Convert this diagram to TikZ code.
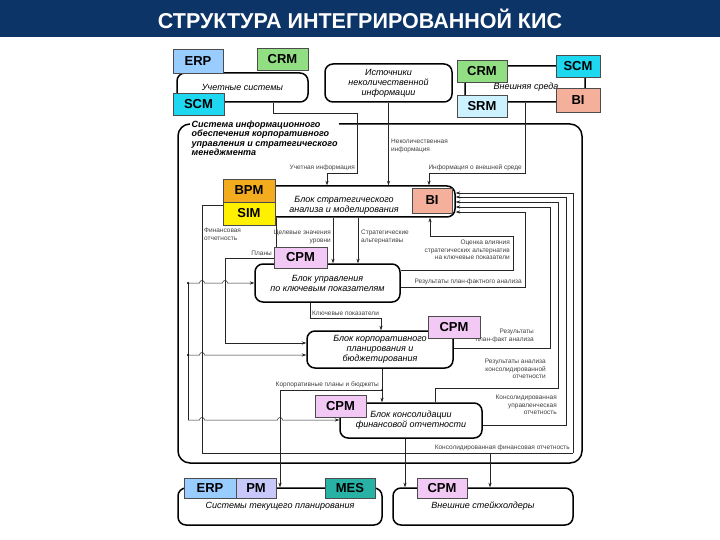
\documentclass[tikz,border=0pt]{standalone}
\usepackage{fontspec}
\setmainfont{Liberation Sans}
\usetikzlibrary{arrows.meta}

\definecolor{titleblue}{RGB}{12,52,102}
\definecolor{erpblue}{RGB}{153,204,255}
\definecolor{crmgreen}{RGB}{146,222,130}
\definecolor{scmcyan}{RGB}{30,215,240}
\definecolor{srmcyan}{RGB}{205,242,255}
\definecolor{bisalmon}{RGB}{244,176,155}
\definecolor{bpmorange}{RGB}{242,172,30}
\definecolor{simyellow}{RGB}{255,240,0}
\definecolor{cpmpink}{RGB}{242,200,245}
\definecolor{pmlav}{RGB}{200,200,250}
\definecolor{mesteal}{RGB}{40,178,165}

\newcommand\tagfnt{\fontsize{13}{15}\selectfont\bfseries}
\newcommand\blkfnt{\fontsize{9}{10}\selectfont\itshape}
\newcommand\notefnt{\fontsize{6.5}{7.5}\selectfont}

\tikzset{
  tag/.style={draw=black!70, line width=0.5pt, inner sep=0pt, font=\tagfnt},
  block/.style={draw, line width=1.5pt, rounded corners=8pt, fill=white, inner sep=0pt, align=center, font=\blkfnt},
  note/.style={inner sep=0pt, text=black!75, font=\notefnt},
  link/.style={line width=0.5pt, draw=black!85},
}

\begin{document}
\begin{tikzpicture}[x=1pt,y=-1pt,>={Stealth[length=4.5pt,width=3.2pt]}]
    \useasboundingbox (0,0) rectangle (720,540);

    % title bar
    \fill[titleblue] (0,0) rectangle (720,37);
    \node[text=white,font=\fontsize{21.5}{24}\selectfont\bfseries] (title) at (360,18.5) {СТРУКТУРА ИНТЕГРИРОВАННОЙ КИС};

    % outer system
    \node[block,rounded corners=12pt,minimum width=404pt,minimum height=339pt] (sys) at (380,293.5) {};
    \node[anchor=north west,inner sep=1.5pt,fill=white,align=left,font=\fontsize{9}{9.5}\selectfont\bfseries\itshape] (sysT) at (190,119)
        {Система информационного\\обеспечения корпоративного\\управления и стратегического\\менеджмента};

    % sources of information
    \node[block,minimum width=131pt,minimum height=29pt] (acc) at (242.5,87.5) {Учетные системы};
    \node[block,minimum width=127pt,minimum height=38pt] (src) at (388.5,83) {Источники\\неколичественной\\информации};
    \node[block,minimum width=120pt,minimum height=36pt] (env) at (525,84) {};
    \node[font=\blkfnt] (envT) at (526,87) {Внешняя среда};

    % blocks
    \node[block,minimum width=193pt,minimum height=31pt] (strat) at (358.5,201.5) {};
    \node[font=\blkfnt,align=center] (stratT) at (344,205) {Блок стратегического\\анализа и моделирования};
    \node[block,minimum width=145pt,minimum height=38pt] (kpi) at (327.5,283) {Блок управления\\по ключевым показателям};
    \node[block,minimum width=146pt,minimum height=37pt] (plan) at (380,349.5) {Блок корпоративного\\планирования и\\бюджетирования};
    \node[block,minimum width=142pt,minimum height=35pt] (cons) at (411,420.5) {Блок консолидации\\финансовой отчетности};
    \node[block,minimum width=204pt,minimum height=37pt] (curp) at (280,506.5) {Системы текущего планирования};
    \node[block,minimum width=180pt,minimum height=37pt] (stake) at (483,506.5) {Внешние стейкхолдеры};

    % inputs to strategic block
    \draw[link,->] (acc.south -| 273,0) -- (273,113) -- (357,113) -- (357,173) -- (327,173) -- (strat.north -| 327,0);
    \node[note,anchor=south east] (lAcc) at (355,171) {Учетная информация};
    \draw[link,->] (src.south) -- (strat.north -| src.south);
    \node[note,anchor=north west,align=left] (lSrc) at (391,139) {Неколичественная\\информация};
    \draw[link,->] (env.south) -- (525,173) -- (429,173) -- (strat.north -| 429,0);
    \node[note,anchor=south east] (lEnv) at (522,171) {Информация о внешней среде};

    % strategic block down to kpi block
    \draw[link,->] (strat.south -| 333,0) -- (kpi.north -| 333,0);
    \node[note,anchor=north east,align=right] (lTgt) at (331,230) {Целевые значения\\уровни};
    \draw[link,->] (strat.south -| 358,0) -- (kpi.north -| 358,0);
    \node[note,anchor=north west,align=left] (lAlt) at (361,230) {Стратегические\\альтернативы};
    \draw[link,->] (strat.south -| 276,0) -- (276,258) -- (225,258) -- (225,343) -- (plan.west |- 0,343);
    \node[note,anchor=south east] (lPlans) at (272,256) {Планы};

    % left bus
    \coordinate (busTop) at (188,283);
    \coordinate (busMid) at (188,355);
    \coordinate (busBot) at (188,420);
    \draw[link] (busTop) -- (busBot);
    \fill (busTop) circle (1.1pt);
    \fill (busMid) circle (1.1pt);
    \draw[link,->] (busTop) -- (199.5,283) arc[start angle=180,end angle=0,radius=2.5pt] -- (222.5,283) arc[start angle=180,end angle=0,radius=2.5pt] -- (kpi.west);
    \draw[link,->] (busMid) -- (199.5,355) arc[start angle=180,end angle=0,radius=2.5pt] -- (plan.west |- busMid);
    \draw[link,->] (busBot) -- (199.5,420) arc[start angle=180,end angle=0,radius=2.5pt] -- (277.5,420) arc[start angle=180,end angle=0,radius=2.5pt] -- (cons.west |- busBot);

    % financial statements loop
    \coordinate (finIn) at (223,205);
    \draw[link] (finIn) -- (202,205) -- (202,453) -- (573,453);
    \node[note,anchor=north west,align=left] (lFin) at (204,228) {Финансовая\\отчетность};
    \draw[link,->] (573,453) -- (573,193) -- (strat.east |- 0,193);
    \node[note,anchor=south east] (lConsFin) at (570,451) {Консолидированная финансовая отчетность};
    \draw[link,->] (490,453) -- (stake.north -| 490,0);

    % kpi block to planning
    \draw[link,->] (kpi.south -| 310,0) -- (310,318) -- (381,318) -- (plan.north -| 381,0);
    \node[note,anchor=south west] (lKey) at (312,316) {Ключевые показатели};

    % planning to consolidation and current planning
    \draw[link,->] (plan.south -| 382,0) -- (cons.north -| 382,0);
    \draw[link,->] (382,390) -- (280,390) -- (curp.north -| 280,0);
    \fill (382,390) circle (0.9pt);
    \node[note,anchor=south east] (lCorp) at (379,388) {Корпоративные планы и бюджеты};
    \draw[link,->] (cons.south -| 405,0) -- (stake.north -| 405,0);

    % feedback to strategic block
    \draw[link,->] (kpi.east |- 0,270) -- (513,270) -- (513,236) -- (430,236) -- (strat.south -| 430,0);
    \node[note,anchor=north east,align=right] (lEval) at (510,240) {Оценка влияния\\стратегических альтернатив\\на ключевые показатели};
    \draw[link,->] (kpi.east |- 0,287) -- (525,287) -- (525,212) -- (strat.east |- 0,212);
    \node[note,anchor=south east] (lPF1) at (522,285) {Результаты план-фактного анализа};
    \draw[link,->] (plan.east |- 0,348) -- (550,348) -- (550,207) -- (strat.east |- 0,207);
    \node[note,anchor=north east,align=right] (lPF2) at (534,329) {Результаты\\план-факт анализа};
    \draw[link,->] (cons.north -| 435,0) -- (435,388) -- (558,388) -- (558,202) -- (strat.east |- 0,202);
    \node[note,anchor=north east,align=right] (lAn) at (546,359) {Результаты анализа\\консолидированной\\отчетности};
    \draw[link,->] (cons.east |- 0,425) -- (566,425) -- (566,197) -- (strat.east |- 0,197);
    \node[note,anchor=north east,align=right] (lMgmt) at (557,395) {Консолидированная\\управленческая\\отчетность};

    % system tags
    \node[tag,fill=erpblue,minimum width=50pt,minimum height=24pt] (erp1) at (198,61) {ERP};
    \node[tag,fill=crmgreen,minimum width=51pt,minimum height=22pt] (crm1) at (282.5,59) {CRM};
    \node[tag,fill=scmcyan,minimum width=51pt,minimum height=22pt] (scm1) at (198.5,104) {SCM};
    \node[tag,fill=crmgreen,minimum width=50pt,minimum height=22pt] (crm2) at (482,71) {CRM};
    \node[tag,fill=srmcyan,minimum width=50pt,minimum height=22pt] (srm) at (482,106) {SRM};
    \node[tag,fill=scmcyan,minimum width=44pt,minimum height=22pt] (scm2) at (578,66) {SCM};
    \node[tag,fill=bisalmon,minimum width=44pt,minimum height=24pt] (bi1) at (578,100) {BI};
    \node[tag,fill=bpmorange,minimum width=52pt,minimum height=23pt] (bpm) at (249,190.5) {BPM};
    \node[tag,fill=simyellow,minimum width=52pt,minimum height=23pt] (sim) at (249,213.5) {SIM};
    \node[tag,fill=bisalmon,minimum width=40pt,minimum height=25pt] (bi2) at (432,200.5) {BI};
    \node[tag,fill=cpmpink,minimum width=53pt,minimum height=21pt] (cpm1) at (300.5,257.5) {CPM};
    \node[tag,fill=cpmpink,minimum width=52pt,minimum height=22pt] (cpm2) at (454,327) {CPM};
    \node[tag,fill=cpmpink,minimum width=51pt,minimum height=22pt] (cpm3) at (340.5,406) {CPM};
    \node[tag,fill=erpblue,minimum width=52pt,minimum height=20pt] (erp2) at (210,488) {ERP};
    \node[tag,fill=pmlav,minimum width=40pt,minimum height=20pt] (pm) at (256,488) {PM};
    \node[tag,fill=mesteal,minimum width=50pt,minimum height=20pt] (mes) at (350,488) {MES};
    \node[tag,fill=cpmpink,minimum width=50pt,minimum height=20pt] (cpm4) at (442,488) {CPM};
\end{tikzpicture}
\end{document}
